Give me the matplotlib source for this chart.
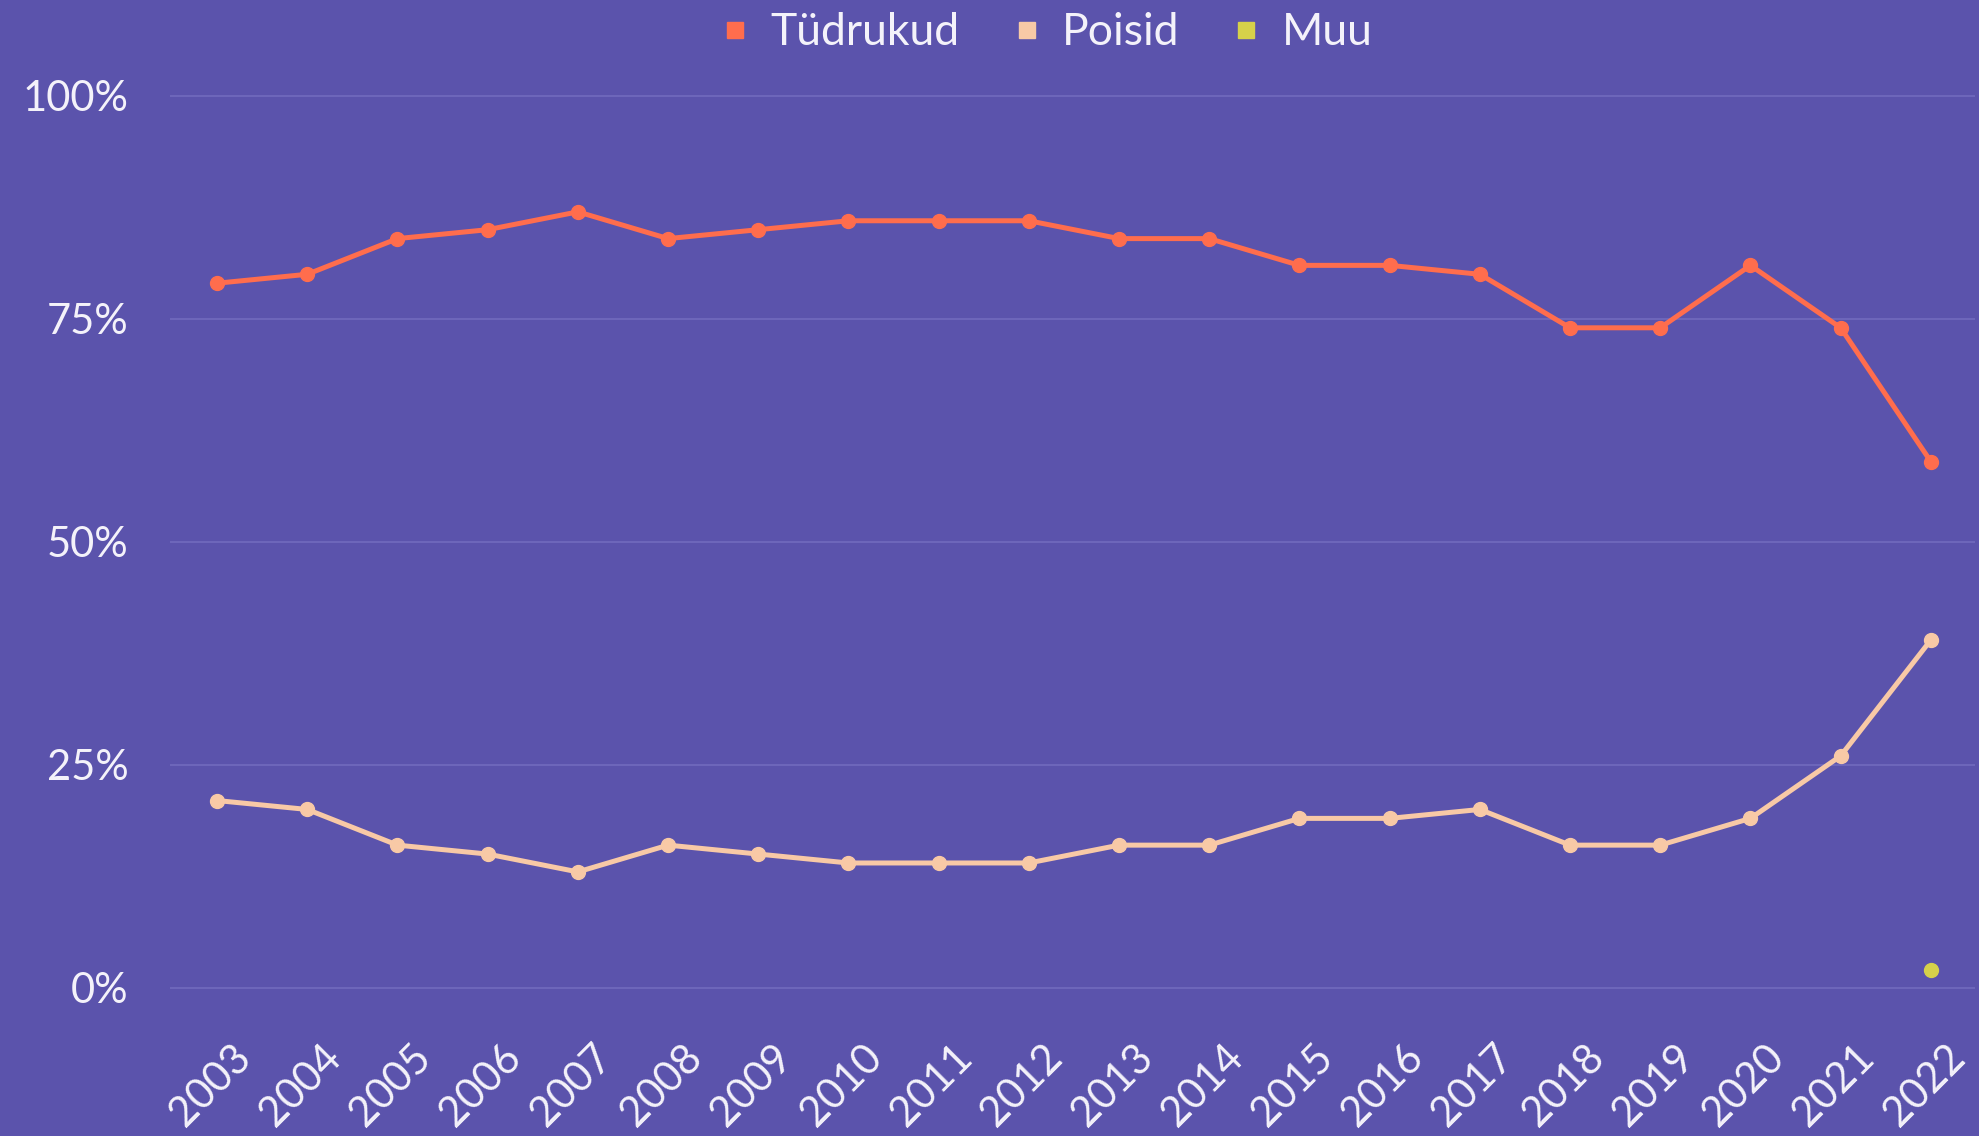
import matplotlib.pyplot as plt
import numpy as np
from matplotlib.transforms import ScaledTranslation

years = [str(y) for y in range(2003, 2023)]
tudrukud = [79, 80, 84, 85, 87, 84, 85, 86, 86, 86, 84, 84, 81, 81, 80, 74, 74, 81, 74, 59]
poisid = [21, 20, 16, 15, 13, 16, 15, 14, 14, 14, 16, 16, 19, 19, 20, 16, 16, 19, 26, 39]
muu = [np.nan] * 19 + [2]

series_names = ['Tüdrukud', 'Poisid', 'Muu']
colors = ['#FF6D4D', '#F8C9A6', '#D6D14A']
bg = '#5B53AC'

plt.rcParams['font.family'] = ['Lato', 'DejaVu Sans']

fig = plt.figure(figsize=(19.79, 11.36), dpi=100, facecolor=bg)
ax = fig.add_axes([0.086, 0.099, 0.912, 0.848], facecolor=bg)

x = np.arange(len(years))
for vals, name, c in zip([tudrukud, poisid, muu], series_names, colors):
    ax.plot(x, vals, color=c, lw=3.6, marker='o', markersize=10, label=name)

ax.set_xlim(-0.52, 19.49)
ax.set_ylim(-4, 104)
ax.set_yticks([0, 25, 50, 75, 100])
ax.set_yticklabels(['0%', '25%', '50%', '75%', '100%'])
ax.set_xticks(x)
ax.set_xticklabels(years, rotation=45, ha='right', va='top', rotation_mode='anchor')
ax.tick_params(axis='both', length=0, colors='#F4F2FA', labelsize=30)
ax.tick_params(axis='y', pad=30)
ax.tick_params(axis='x', pad=10)
shift = ScaledTranslation(0.14, 0, fig.dpi_scale_trans)
for lbl in ax.get_xticklabels():
    lbl.set_transform(lbl.get_transform() + shift)
ax.grid(axis='y', color='#6D66BA', lw=1.5)
ax.set_axisbelow(True)
for s in ax.spines.values():
    s.set_visible(False)

handles = [plt.Line2D([], [], marker='s', ls='', color=c, markersize=11) for c in colors]
fig.legend(handles, series_names, loc='center', bbox_to_anchor=(0.527, 0.971), ncol=3,
           frameon=False, fontsize=32, labelcolor='#F4F2FA', handletextpad=0.3,
           columnspacing=1.0, handlelength=1.0)

fig.savefig('out.png', dpi=100, facecolor=bg)
